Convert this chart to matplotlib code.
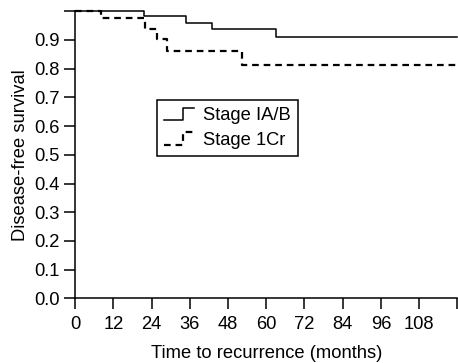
import matplotlib
matplotlib.use('Agg')
import matplotlib.pyplot as plt
from matplotlib.legend_handler import HandlerBase
from matplotlib.lines import Line2D

plt.rcParams['font.family'] = ['Liberation Sans', 'DejaVu Sans']

# Kaplan-Meier step values
stage_iab_months = [0, 21.6, 34.8, 43, 63, 120]
stage_iab_surv = [1.0, 0.985, 0.96, 0.937, 0.911, 0.911]

stage_1cr_months = [0, 8, 22, 25.6, 29, 52.5, 120]
stage_1cr_surv = [1.0, 0.975, 0.938, 0.902, 0.862, 0.813, 0.813]

x_ticks = list(range(0, 121, 12))
x_ticklabels = [str(t) for t in x_ticks[:-1]] + ['']
y_ticks = [i / 10 for i in range(11)]
y_ticklabels = ['%.1f' % t for t in y_ticks[:-1]] + ['']

labels = ['Stage IA/B', 'Stage 1Cr']

FS = 13.2


class StepHandler(HandlerBase):
    # little step-shaped legend key
    def create_artists(self, legend, orig_handle, xdescent, ydescent,
                       width, height, fontsize, trans):
        x0, x1 = -xdescent, -xdescent + width
        xm = x0 + 0.65 * width
        ylo = -ydescent + 0.0 * height
        yhi = -ydescent + 0.95 * height
        line = Line2D([x0, xm, xm, x1], [ylo, ylo, yhi, yhi],
                      color='black', lw=orig_handle.get_linewidth(),
                      linestyle=orig_handle.get_linestyle(), transform=trans)
        if orig_handle.get_linestyle() == '--':
            line.set_dashes((3, 2.2))
        return [line]


fig = plt.figure(figsize=(4.58, 3.63), dpi=100)
ax = fig.add_axes([0.1638, 0.178, 0.835, 0.791])

l1, = ax.plot(stage_iab_months, stage_iab_surv, drawstyle='steps-post',
              color='black', lw=1.1, clip_on=False)
l2, = ax.plot(stage_1cr_months, stage_1cr_surv, drawstyle='steps-post',
              color='black', lw=1.6, linestyle='--', dashes=(3, 2.2),
              clip_on=False)

ax.set_xlim(0, 120)
ax.set_ylim(0, 1.0)
ax.set_xticks(x_ticks)
ax.set_xticklabels(x_ticklabels)
ax.set_yticks(y_ticks)
ax.set_yticklabels(y_ticklabels)

for side in ['top', 'right']:
    ax.spines[side].set_visible(False)
for side in ['left', 'bottom']:
    ax.spines[side].set_linewidth(1.1)
ax.tick_params(axis='x', direction='out', length=8, width=1.1, labelsize=FS, pad=5)
ax.tick_params(axis='y', direction='out', length=8, width=1.1, labelsize=FS, pad=3)

ax.set_xlabel('Time to recurrence (months)', fontsize=FS, labelpad=8)
ax.set_ylabel('Disease-free survival', fontsize=FS, labelpad=4)

leg = ax.legend([l1, l2], labels, loc='upper left',
                bbox_to_anchor=(0.214, 0.691), borderaxespad=0,
                fontsize=FS, fancybox=False, edgecolor='black',
                framealpha=1, handlelength=1.6, handletextpad=0.5,
                borderpad=0.4, labelspacing=0.4,
                handler_map={Line2D: StepHandler()})
leg.get_frame().set_linewidth(1.1)

plt.savefig('out.png', dpi=100)
